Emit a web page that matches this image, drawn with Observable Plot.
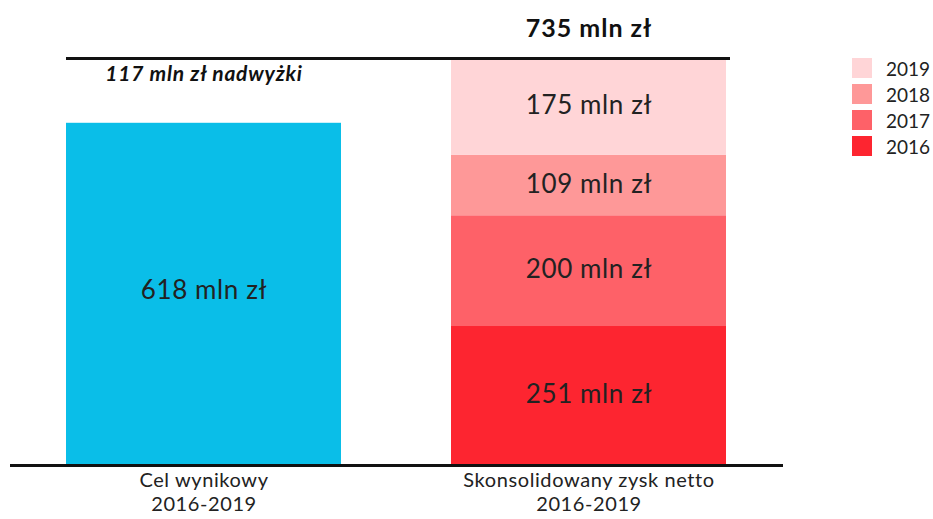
<!DOCTYPE html>
<html>
<head>
<meta charset="utf-8">
<script src="https://cdn.jsdelivr.net/npm/d3@7"></script>
<script src="https://cdn.jsdelivr.net/npm/@observablehq/plot@0.6"></script>
<style>
  body { margin: 0; background: #fff; font-family: Lato, "Open Sans", sans-serif; }
  #wrap { position: relative; width: 933px; height: 519px; overflow: hidden; }
  #legend { position: absolute; left: 852px; top: 58px; width: 80px; }
  .item { display: flex; align-items: center; height: 20px; margin-bottom: 6px; font-size: 19px; color: #222; white-space: nowrap; }
  .sw { width: 20px; height: 20px; margin-right: 14px; flex: none; }
  svg g[font-size="26"] text { letter-spacing: 0.6px; }
  svg g[font-size="25"] text { letter-spacing: 1px; }
  svg g[font-size="21"] text { letter-spacing: 0.8px; }
  svg g[font-size="20"] text { letter-spacing: 0.6px; }
</style>
</head>
<body>
<div id="wrap"><div id="legend"></div></div>
<script>
const categories = ["Cel wynikowy\n2016-2019", "Skonsolidowany zysk netto\n2016-2019"];
const targetValue = [618];
const years = ["2016", "2017", "2018", "2019"];
const profitValues = [251, 200, 109, 175];
const yearColors = ["#fd2530", "#fe6168", "#fe9898", "#ffd5d7"];
const targetColor = "#0abee8";
const unit = " mln zł";

const total = d3.sum(profitValues);
const surplus = total - targetValue[0];

let cum = 0;
const profitRows = years.map((yr, i) => {
  const y1 = cum; cum += profitValues[i];
  return {cat: categories[1], year: yr, value: profitValues[i], y1, y2: cum, mid: (y1 + cum) / 2};
});
const targetRows = [{cat: categories[0], value: targetValue[0]}];

const chart = Plot.plot({
  width: 933,
  height: 519,
  marginLeft: 10,
  marginRight: 150,
  marginTop: 58,
  marginBottom: 54,
  style: {fontFamily: "Lato, 'Open Sans', sans-serif", color: "#222", background: "transparent"},
  x: {domain: categories, paddingInner: 0.285, paddingOuter: 0.144, label: null},
  y: {domain: [0, total], axis: null},
  color: {domain: years, range: yearColors},
  marks: [
    Plot.barY(targetRows, {x: "cat", y: "value", fill: targetColor}),
    Plot.barY(profitRows, {x: "cat", y1: "y1", y2: "y2", fill: "year"}),
    Plot.text(targetRows, {x: "cat", y: d => d.value / 2, text: d => d.value + unit, dy: -4, fontSize: 26, fill: "#222"}),
    Plot.text(profitRows, {x: "cat", y: "mid", text: d => d.value + unit, dy: -1, fontSize: 26, fill: "#222"}),
    Plot.text([total], {x: () => categories[1], y: d => d, text: d => d + unit, dy: -30, fontSize: 25, fontWeight: "bold", fill: "#111"}),
    Plot.text([surplus], {x: () => categories[0], y: () => total, text: d => d + unit + " nadwyżki", dy: 16, fontSize: 21, fontWeight: "bold", fontStyle: "italic", fill: "#111"}),
    Plot.ruleY([total], {stroke: "#111", strokeWidth: 3, insetLeft: 56, insetRight: 53}),
    Plot.ruleY([0], {stroke: "#111", strokeWidth: 3}),
    Plot.axisX({tickSize: 0, tickPadding: 4, fontSize: 20, lineHeight: 1.2, label: null})
  ]
});
document.getElementById("wrap").prepend(chart);

const legend = document.getElementById("legend");
years.slice().reverse().forEach(yr => {
  const i = years.indexOf(yr);
  const item = document.createElement("div");
  item.className = "item";
  item.innerHTML = `<div class="sw" style="background:${yearColors[i]}"></div><span>${yr}</span>`;
  legend.appendChild(item);
});
</script>
</body>
</html>
